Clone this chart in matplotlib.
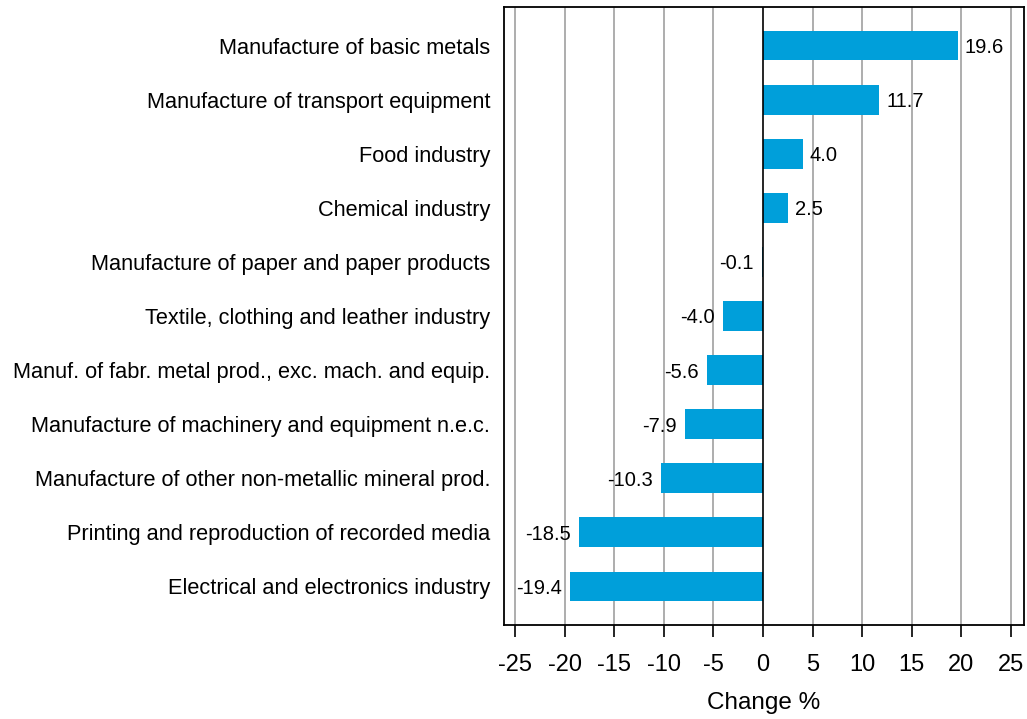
import matplotlib
matplotlib.use("Agg")
import matplotlib.pyplot as plt

categories = [
    "Manufacture of basic metals",
    "Manufacture of transport equipment",
    "Food industry",
    "Chemical industry",
    "Manufacture of paper and paper products",
    "Textile, clothing and leather industry",
    "Manuf. of fabr. metal prod., exc. mach. and equip.",
    "Manufacture of machinery and equipment n.e.c.",
    "Manufacture of other non-metallic mineral prod.",
    "Printing and reproduction of recorded media",
    "Electrical and electronics industry",
]
values = [19.6, 11.7, 4.0, 2.5, -0.1, -4.0, -5.6, -7.9, -10.3, -18.5, -19.4]
xticks = [-25, -20, -15, -10, -5, 0, 5, 10, 15, 20, 25]

plt.rcParams['font.family'] = ['Liberation Sans', 'DejaVu Sans']

fig = plt.figure(figsize=(10.27, 7.19), dpi=100)
ax = fig.add_axes([504/1027, 1-625/719, (1024-504)/1027, (625-7)/719])

y = list(range(len(categories)))
ax.barh(y, values, height=0.54, color="#009FDA", zorder=3)
ax.set_ylim(len(categories) - 1 + 0.72, -0.72)
ax.set_xlim(-26.1, 26.3)
ax.set_xticks(xticks)
ax.set_xticklabels([str(t) for t in xticks], fontsize=17)
ax.set_yticks(y)
ax.set_yticklabels(categories, fontsize=15.7)
ax.tick_params(axis='y', length=0, pad=10)
ax.tick_params(axis='x', direction='out', length=8.6, width=1.2, pad=12, color='black')
for t in xticks:
    ax.axvline(t, color='black' if t == 0 else '#a0a0a0', lw=1.2, zorder=2 if t != 0 else 4)
for s in ax.spines.values():
    s.set_color('black')
    s.set_linewidth(1.3)
ax.set_xlabel("Change %", fontsize=17.5, labelpad=12)

for yi, v in zip(y, values):
    if v >= 0:
        ax.annotate(f"{v:.1f}", (v, yi), xytext=(5, 0), textcoords='offset points',
                    ha='left', va='center_baseline', fontsize=14.5, zorder=5)
    else:
        ax.annotate(f"{v:.1f}", (v, yi), xytext=(-6, 0), textcoords='offset points',
                    ha='right', va='center_baseline', fontsize=14.5, zorder=5)

fig.savefig("out.png", dpi=100)
